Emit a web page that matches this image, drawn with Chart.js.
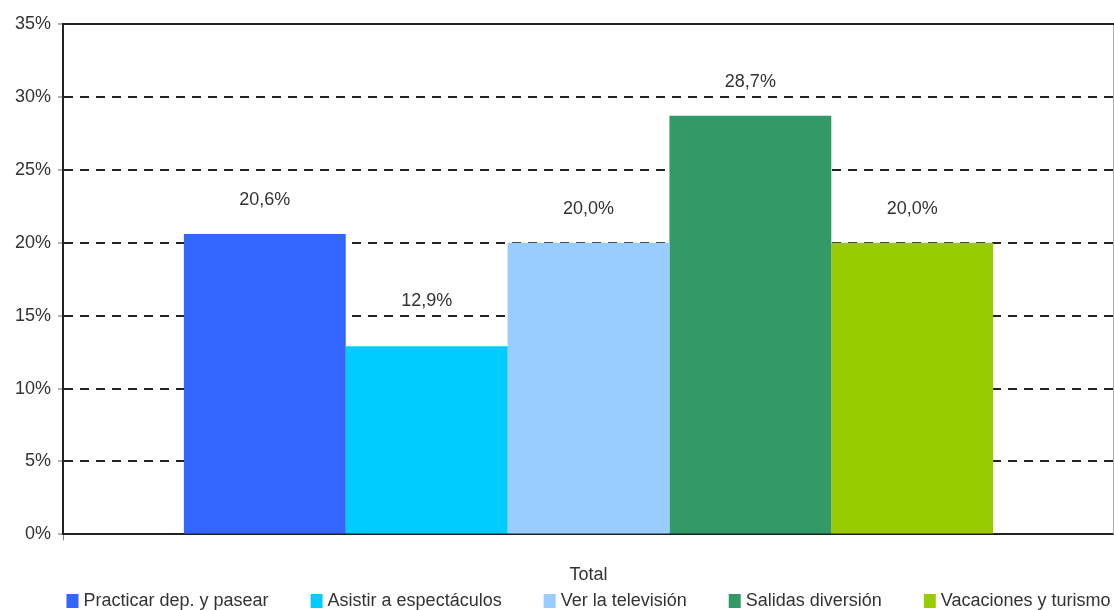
<!DOCTYPE html>
<html>
<head>
<meta charset="utf-8">
<script src="https://cdn.jsdelivr.net/npm/chart.js@4"></script>
<style>
  html, body { margin: 0; padding: 0; background: #fff; }
  #wrap { width: 1114px; height: 610px; }
</style>
</head>
<body>
<div id="wrap"><canvas id="chart" width="1114" height="610"></canvas></div>
<script>
const categories = ["Total"];
const seriesNames = ["Practicar dep. y pasear", "Asistir a espectáculos", "Ver la televisión", "Salidas diversión", "Vacaciones y turismo"];
const seriesValues = [20.6, 12.9, 20.0, 28.7, 20.0];
const seriesColors = ["#3366ff", "#00ccff", "#99ccff", "#339966", "#99cc00"];
const yTicks = [0, 5, 10, 15, 20, 25, 30, 35];

const FONT = "'Liberation Sans', Arial, sans-serif";
const FSIZE = 18;
const TEXT = "#333333";

// value labels above each bar, lifted over a gridline when they would sit on it
const barLabels = {
  id: "barLabels",
  afterDatasetsDraw(chart) {
    const ctx = chart.ctx;
    const yScale = chart.scales.y;
    const lines = yTicks.map(v => yScale.getPixelForValue(v));
    ctx.save();
    ctx.font = FSIZE + "px " + FONT;
    ctx.fillStyle = TEXT;
    ctx.textAlign = "center";
    ctx.textBaseline = "middle";
    chart.data.datasets.forEach((ds, i) => {
      chart.getDatasetMeta(i).data.forEach((bar, j) => {
        const txt = ds.data[j].toFixed(1).replace(".", ",") + "%";
        let y = bar.y - 34;
        lines.forEach(ly => { if (Math.abs(y - ly) < 11) y = ly - 15; });
        ctx.fillText(txt, bar.x, y);
      });
    });
    ctx.restore();
  }
};

// solid top line and light right edge of the plot frame
const frame = {
  id: "frame",
  beforeDatasetsDraw(chart) {
    const { ctx, chartArea: a } = chart;
    ctx.save();
    ctx.strokeStyle = "#aaaaaa";
    ctx.lineWidth = 1;
    ctx.beginPath();
    ctx.moveTo(a.right - 0.5, a.top);
    ctx.lineTo(a.right - 0.5, a.bottom);
    ctx.stroke();
    ctx.strokeStyle = "#222222";
    ctx.lineWidth = 2;
    ctx.beginPath();
    ctx.moveTo(a.left, a.top);
    ctx.lineTo(a.right, a.top);
    ctx.stroke();
    ctx.restore();
  }
};

// legend row along the bottom edge
const bottomLegend = {
  id: "bottomLegend",
  afterDraw(chart) {
    const { ctx, chartArea: a } = chart;
    const gap = 42, boxW = 12, boxH = 14, boxGap = 5;
    ctx.save();
    ctx.font = FSIZE + "px " + FONT;
    const widths = chart.data.datasets.map(ds => boxW + boxGap + ctx.measureText(ds.label).width);
    const total = widths.reduce((s, w) => s + w, 0) + gap * (widths.length - 1);
    let x = (a.left + a.right) / 2 - total / 2;
    const y = chart.height - 9;
    ctx.textBaseline = "middle";
    chart.data.datasets.forEach((ds, i) => {
      ctx.fillStyle = ds.backgroundColor;
      ctx.fillRect(x, y - boxH / 2, boxW, boxH);
      ctx.fillStyle = TEXT;
      ctx.fillText(ds.label, x + boxW + boxGap, y);
      x += widths[i] + gap;
    });
    ctx.restore();
  }
};

new Chart(document.getElementById("chart"), {
  type: "bar",
  data: {
    labels: categories,
    datasets: seriesNames.map((name, i) => ({
      label: name,
      data: [seriesValues[i]],
      backgroundColor: seriesColors[i],
      borderWidth: 0,
      categoryPercentage: 0.77,
      barPercentage: 1.0
    }))
  },
  options: {
    responsive: false,
    animation: false,
    layout: { padding: { top: 24, right: 0, left: 8, bottom: 0 } },
    plugins: {
      tooltip: { enabled: false },
      legend: { display: false }
    },
    scales: {
      x: {
        grid: { display: true, drawOnChartArea: false, drawTicks: true, tickLength: 6, color: "#888888", offset: true },
        border: { display: true, color: "#222222", width: 2 },
        ticks: { color: TEXT, font: { family: FONT, size: FSIZE }, padding: 24 }
      },
      y: {
        min: 0,
        max: 35,
        afterBuildTicks(scale) { scale.ticks = yTicks.map(v => ({ value: v })); },
        grid: {
          color: ctx => (ctx.tick && (ctx.tick.value === 35 || ctx.tick.value === 0)) ? "rgba(0,0,0,0)" : "#222222",
          lineWidth: 2,
          tickColor: "#666666",
          tickLength: 5,
          tickWidth: 1
        },
        border: { display: true, color: "#222222", width: 2, dash: [9, 7] },
        ticks: {
          color: TEXT,
          font: { family: FONT, size: FSIZE },
          padding: 7,
          callback: v => v + "%"
        }
      }
    }
  },
  plugins: [barLabels, frame, bottomLegend]
});
</script>
</body>
</html>
